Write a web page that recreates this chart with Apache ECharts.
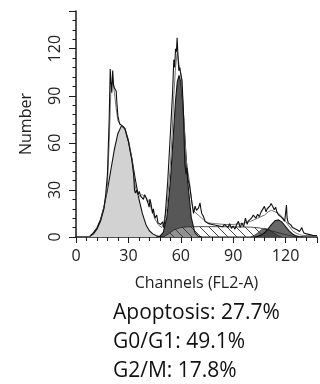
<!DOCTYPE html>
<html><head><meta charset="utf-8">
<script src="https://cdn.jsdelivr.net/npm/echarts@6/dist/echarts.min.js"></script>
<style>html,body{margin:0;padding:0;background:#fff}#c{width:320px;height:384px}</style>
</head><body><div id="c"></div>
<script>
// ---- data ----
const xTickLabels = [0, 30, 60, 90, 120];
const yTickLabels = [0, 30, 60, 90, 120];
const apoptosis = [[8,0.5],[10,2.8],[12,5.9],[14,11],[16,19],[18,30],[20,43],[22,56],[24,66],[26,70.8],[27,70.5],[28,69],[30,61],[32,50],[34,36.5],[36,24.5],[38,15],[40,8],[42,4],[44,2],[46,0.8],[48,0.3],[50,0]];
const g0g1 = [[46,0],[48,0.5],[50,3],[52,12.5],[54,35],[55,52],[56,70],[57,87],[58,99],[59,103],[60,99],[61,87],[62,70],[63,52],[64,35],[66,12.5],[68,3],[70,0.5],[72,0]];
const sPhase = [[50,0],[53,2],[56,4.5],[60,6],[64,6.5],[70,6.6],[80,6.6],[90,6.5],[100,6.3],[105,5.8],[110,4.5],[115,3],[120,1.5],[124,0.5],[126,0]];
const g2m = [[102,0],[104,0.4],[106,1.2],[108,2.7],[110,5.2],[112,8.1],[114,10.4],[116,10.9],[118,9.4],[120,6.7],[122,3.9],[124,1.9],[126,0.7],[128,0.2],[130,0]];
const aggregates = [[100,0],[102,1],[104,2.5],[106,4.5],[108,5.5],[110,5],[112,3.5],[114,2],[116,0.8],[118,0]];
const fitLine = [[14,10],[16,19],[18,32],[19,60],[20,95],[21,100],[22,92],[23,82],[24,74],[26,71],[28,69],[30,62],[32,50],[33,40],[34,32],[35,28],[36,26],[38,27],[40,25],[41,22],[42,24],[43,18],[44,16],[45,12],[46,11],[47,8],[48,7],[49,6],[50,8],[52,18],[54,45],[55,65],[56,90],[57,108],[58,118],[59,110],[60,104],[61,90],[62,70],[63,50],[64,42],[65,35],[66,25],[67,18],[68,16],[70,14],[72,12],[74,10],[76,9],[80,8.5],[85,8],[90,8],[95,8.5],[100,10],[104,12],[108,14],[110,16],[112,17],[114,16],[116,15],[118,13],[120,10],[122,7],[124,4],[126,2.5],[128,1.5],[130,1],[138,0.8]];
const rawData = [[8,0.5],[10,2],[12,5],[14,10],[16,18],[17,27],[18,40],[19,75],[19.6,107],[20,99],[20.5,92],[21,106],[21.5,97],[22,95],[22.5,96],[23,93],[23.5,84],[24,77],[25,72],[26,71],[27,70.5],[28,69],[30,61],[32,49],[33,40],[33.5,30],[34,28],[34.8,30],[35.5,27],[36.2,29],[37,26],[38,26.5],[38.6,24],[39.3,27],[40,28],[40.6,24],[41.2,25],[41.9,19],[42.4,24],[43,21],[43.8,15],[44.3,18],[44.7,17],[45.2,12],[45.7,11],[46.2,14],[46.6,13],[47,9],[47.5,8.7],[48,10],[48.5,8],[49,7],[49.6,9.7],[50.2,6],[50.8,10],[51.5,20],[52.5,35],[53.5,55],[54.5,75],[55.3,92],[56,113],[56.5,108],[57,120],[57.5,118],[57.9,127],[58.5,113],[58.9,106],[59.4,108],[60,104],[60.7,100],[61.5,80],[62.3,47],[63,40],[63.6,44],[64.2,36],[65,33],[65.5,32],[66,25],[66.4,21.5],[67.3,15],[68.2,19.6],[69,17],[70.2,18.5],[71,21.7],[71.5,18],[72,15],[73,13],[74,9.8],[75,10],[76,8.5],[77,9.5],[78,8],[79,9],[80,7.5],[81,8.5],[82,7],[83,8],[84,6.5],[85,8],[86,7],[87,6],[88,8.5],[89,5.5],[90,7],[91,5],[92,8],[93,10],[94,6],[95,9],[96,6.5],[97,12],[98,8],[98.5,10],[99.5,9],[100.5,12],[101.5,14],[102.3,15],[103,12],[104,14.5],[105,13],[106,16],[107,15],[107.9,19.5],[108.8,16],[109.5,18],[110.5,17],[111.2,20],[111.7,21.4],[112.6,19.6],[113.5,17.4],[114.3,19],[115,16],[116,14],[117.3,13],[118.5,11.5],[119.5,10],[120.2,17],[120.5,20.4],[120.9,12],[121.5,9],[123,7.7],[124,6],[125,5],[126.8,4.5],[128,3.5],[128.7,3.4],[129.3,6],[129.9,4],[130.5,2.6],[132,2],[134,1.5],[136,1],[138,1]];
const statLines = ['Apoptosis: 27.7%', 'G0/G1: 49.1%', 'G2/M: 17.8%'];

// ---- hatch pattern ----
const pc = document.createElement('canvas'); pc.width = 9; pc.height = 9;
const pg = pc.getContext('2d');
pg.fillStyle = 'rgba(255,255,255,0.35)'; pg.fillRect(0,0,9,9);
pg.strokeStyle = '#333'; pg.lineWidth = 0.9;
pg.beginPath(); pg.moveTo(0,0); pg.lineTo(9,9); pg.moveTo(-1,8); pg.lineTo(1,10); pg.moveTo(8,-1); pg.lineTo(10,1); pg.stroke();

const FONT = 'Open Sans';
const axisCol = '#1a1a1a';
const chart = echarts.init(document.getElementById('c'), null, {renderer: 'canvas'});
const gridBox = {left: 76, right: 0, top: 11, bottom: 147};
function fill(name, data, color, extra) {
  return Object.assign({type: 'line', name, data, symbol: 'none', smooth: false,
    lineStyle: {color: '#111', width: 1.1}, areaStyle: {color, opacity: 1}, z: 2}, extra || {});
}
chart.setOption({
  animation: false,
  backgroundColor: '#fff',
  grid: gridBox,
  xAxis: [{
    type: 'value', min: 0, max: 138, interval: 6,
    name: 'Channels (FL2-A)', nameLocation: 'middle', nameGap: 38,
    nameTextStyle: {fontFamily: FONT, fontSize: 16, color: '#222'},
    axisLine: {lineStyle: {color: axisCol, width: 1.5}},
    axisTick: {length: 4, lineStyle: {color: axisCol}},
    axisLabel: {margin: 11, fontFamily: FONT, fontSize: 16, color: '#222',
      formatter: v => xTickLabels.includes(v) ? String(v) : ''},
    splitLine: {show: false}
  }, {
    type: 'value', min: 0, max: 138, interval: 30, position: 'bottom',
    axisLine: {show: false}, axisLabel: {show: false},
    axisTick: {length: 6, lineStyle: {color: axisCol}}, splitLine: {show: false}
  }],
  yAxis: [{
    type: 'value', min: 0, max: 144, interval: 6,
    name: 'Number', nameLocation: 'middle', nameGap: 42,
    nameTextStyle: {fontFamily: FONT, fontSize: 16, color: '#222'},
    axisLine: {show: true, lineStyle: {color: axisCol, width: 1.5}},
    axisTick: {show: true, length: 3.5, lineStyle: {color: axisCol}},
    axisLabel: {rotate: 90, margin: 13, fontFamily: FONT, fontSize: 16, color: '#222',
      formatter: v => yTickLabels.includes(v) ? String(v) : ''},
    splitLine: {show: false}
  }, {
    type: 'value', min: 0, max: 144, interval: 30, position: 'left',
    axisLine: {show: false}, axisLabel: {show: false},
    axisTick: {show: true, length: 7, lineStyle: {color: axisCol}}, splitLine: {show: false}
  }],
  series: [
    fill('Apoptosis', apoptosis, '#d2d2d2'),
    fill('G0/G1', g0g1, '#575757'),
    fill('S', sPhase, {image: pc, repeat: 'repeat'}, {lineStyle: {color: '#222', width: 0.8}}),
    fill('G2/M', g2m, '#686868'),
    fill('Aggregates', aggregates, 'rgba(60,60,60,0.75)', {lineStyle: {color: '#222', width: 0.6}}),
    {type: 'line', name: 'fit', data: fitLine, symbol: 'none', lineStyle: {color: '#777', width: 1}, z: 3},
    {type: 'line', name: 'raw', data: rawData, symbol: 'none', lineStyle: {color: '#111', width: 1.1}, z: 4}
  ],
  graphic: statLines.map((t, i) => ({
    type: 'text', left: 113, top: 303 + i * 29,
    style: {text: t, fontFamily: FONT, fontSize: 21, fill: '#111'}
  }))
});
</script></body></html>
